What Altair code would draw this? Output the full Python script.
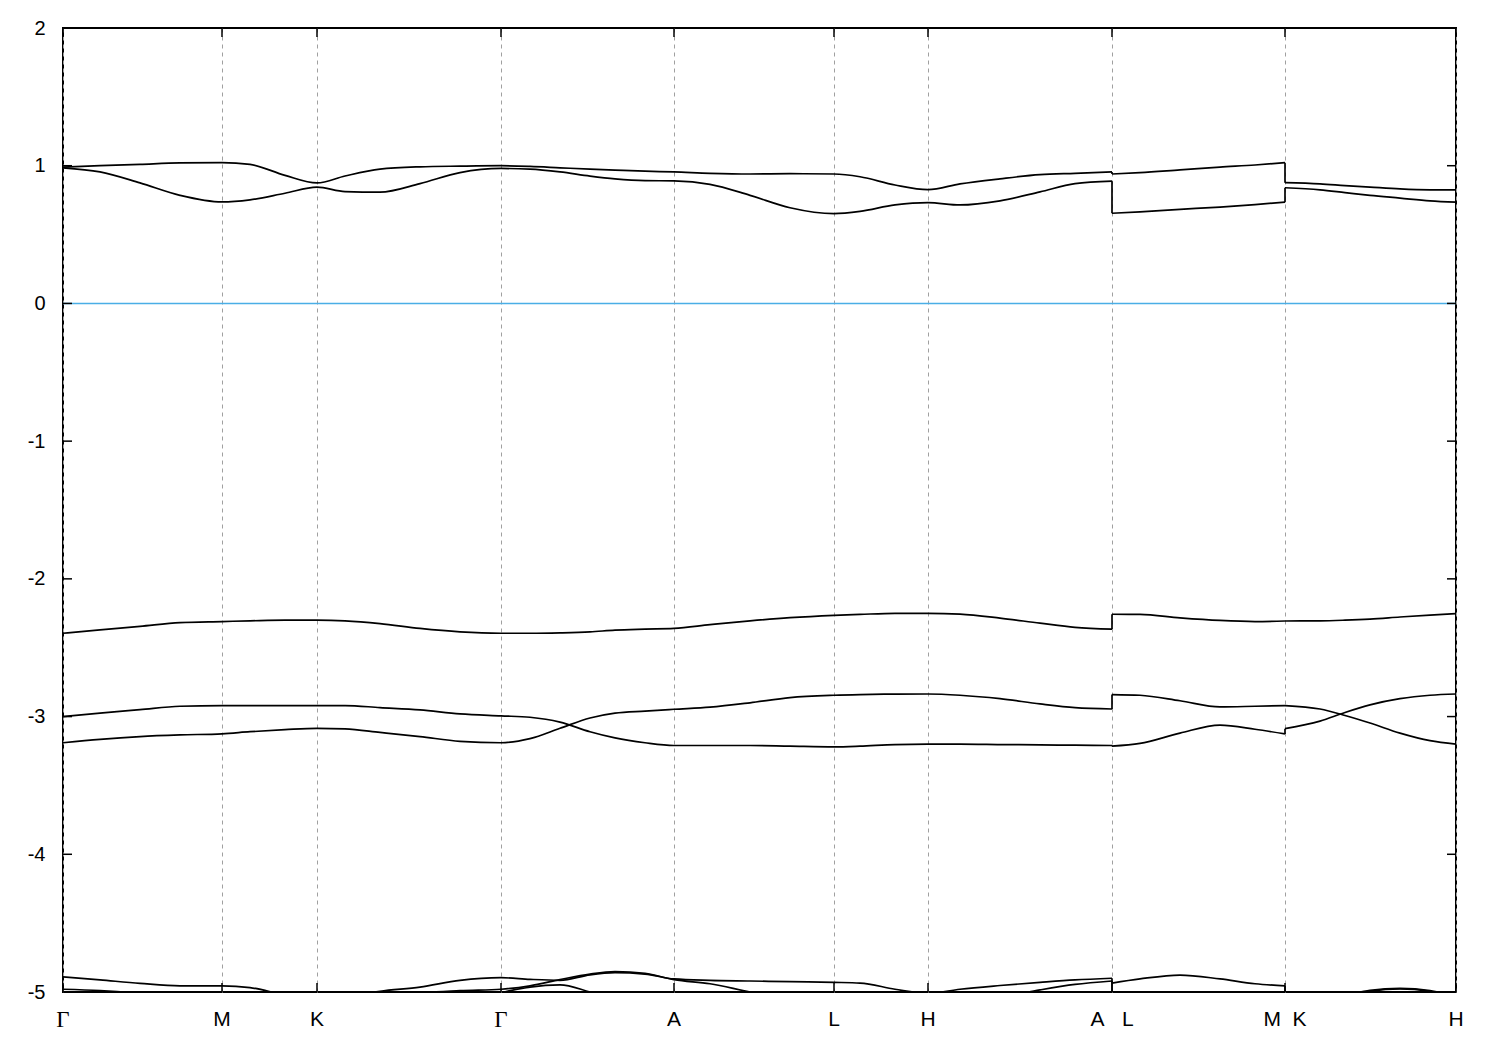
import altair as alt
import pandas as pd

# High-symmetry points along the k-path and their labels
k_points = [0, 1.59, 2.54, 4.38, 6.11, 7.71, 8.65, 10.49, 12.22, 13.93]
k_labels = ["Γ", "M", "K", "Γ", "A", "L", "H",
            "A\u00a0\u00a0\u00a0L", "M\u00a0\u00a0K", "H"]
y_ticks = [-5, -4, -3, -2, -1, 0, 1, 2]

# k-grid of the three continuous path pieces (Γ-M-K-Γ-A-L-H-A | L-M | K-H)
k_seg1 = [0, 0.37, 0.77, 1.17, 1.59, 1.87, 2.22, 2.54, 2.82, 3.17, 3.57, 3.97,
          4.38, 4.67, 4.97, 5.27, 5.52, 5.82, 6.11, 6.47, 6.87, 7.27, 7.71,
          7.97, 8.32, 8.65, 8.97, 9.37, 9.77, 10.12, 10.49]
k_seg2 = [10.49, 10.77, 11.17, 11.57, 11.92, 12.22]
k_seg3 = [12.22, 12.57, 12.82, 13.07, 13.37, 13.67, 13.93]

# Band energies (eV), seg1 + seg2 + seg3
band_t1 = [0.99, 1.0, 1.01, 1.02, 1.023, 1.01, 0.93, 0.875, 0.925, 0.975, 0.992, 0.997,
           1.0, 0.995, 0.985, 0.975, 0.968, 0.96, 0.955, 0.945, 0.94, 0.942, 0.94,
           0.92, 0.86, 0.826, 0.868, 0.905, 0.935, 0.945, 0.955,
           0.94, 0.95, 0.97, 0.99, 1.005, 1.022,
           0.877, 0.868, 0.856, 0.845, 0.832, 0.825, 0.824]
band_t2 = [0.985, 0.955, 0.875, 0.785, 0.737, 0.752, 0.80, 0.844, 0.812, 0.808, 0.87, 0.95,
           0.98, 0.975, 0.955, 0.925, 0.905, 0.892, 0.89, 0.865, 0.785, 0.695, 0.652,
           0.668, 0.715, 0.732, 0.715, 0.745, 0.81, 0.87, 0.888,
           0.655, 0.665, 0.683, 0.70, 0.718, 0.735,
           0.84, 0.825, 0.805, 0.785, 0.765, 0.745, 0.735]
band_m1 = [-2.395, -2.37, -2.345, -2.318, -2.31, -2.305, -2.30, -2.30, -2.305, -2.325, -2.36, -2.385,
           -2.395, -2.395, -2.392, -2.385, -2.372, -2.365, -2.36, -2.333, -2.305, -2.282, -2.265,
           -2.258, -2.25, -2.25, -2.256, -2.285, -2.322, -2.352, -2.365,
           -2.257, -2.258, -2.283, -2.302, -2.31, -2.306,
           -2.306, -2.305, -2.30, -2.292, -2.277, -2.263, -2.253]
band_mp = [-3.0, -2.975, -2.95, -2.925, -2.92, -2.92, -2.92, -2.92, -2.92, -2.935, -2.952, -2.98,
           -2.995, -3.005, -3.04, -3.11, -3.155, -3.19, -3.21, -3.21, -3.21, -3.215, -3.22,
           -3.215, -3.203, -3.20, -3.20, -3.203, -3.206, -3.208, -3.21,
           -3.215, -3.195, -3.12, -3.062, -3.092, -3.126,
           -3.088, -3.033, -2.97, -2.915, -2.87, -2.845, -2.836]
band_mq = [-3.19, -3.165, -3.145, -3.133, -3.125, -3.11, -3.095, -3.085, -3.09, -3.115, -3.145, -3.18,
           -3.19, -3.16, -3.085, -3.01, -2.975, -2.96, -2.947, -2.932, -2.90, -2.862, -2.845,
           -2.84, -2.837, -2.836, -2.845, -2.87, -2.908, -2.935, -2.945,
           -2.84, -2.845, -2.885, -2.93, -2.925, -2.92,
           -2.92, -2.945, -2.992, -3.047, -3.12, -3.175, -3.20]
band_b1 = [-4.89, -4.912, -4.937, -4.955, -4.955, -4.968, -5.02, -5.05, -5.04, -4.995, -4.965, -4.915,
           -4.896, -4.908, -4.915, -4.875, -4.86, -4.87, -4.905, -4.915, -4.92, -4.925, -4.93,
           -4.935, -4.98, -5.01, -4.98, -4.953, -4.93, -4.912, -4.90,
           -4.935, -4.905, -4.877, -4.905, -4.94, -4.955,
           -5.05, -5.05, -5.02, -4.988, -4.974, -4.99, -5.03]
band_b2 = [-4.98, -4.99, -5.01, -5.04, -5.06, -5.08, -5.1, -5.1, -5.1, -5.08, -5.01, -4.99,
           -4.98, -4.955, -4.91, -4.87, -4.852, -4.865, -4.91, -4.94, -5.0, -5.05, -5.08,
           -5.08, -5.08, -5.08, -5.07, -5.04, -4.985, -4.945, -4.92,
           -5.1, -5.1, -5.1, -5.1, -5.1, -5.1,
           -5.1, -5.08, -5.04, -4.995, -4.978, -4.995, -5.04]
band_b3 = [-5.2, -5.2, -5.2, -5.2, -5.2, -5.2, -5.2, -5.2, -5.2, -5.2, -5.2, -5.2,
           -5.01, -4.965, -4.948, -5.0, -5.05, -5.2, -5.2, -5.2, -5.2, -5.2, -5.2,
           -5.2, -5.2, -5.2, -5.2, -5.2, -5.2, -5.2, -5.2,
           -5.2, -5.2, -5.2, -5.2, -5.2, -5.2,
           -5.2, -5.2, -5.2, -5.2, -5.2, -5.2, -5.2]

bands = {"t1": band_t1, "t2": band_t2, "m1": band_m1, "mp": band_mp,
         "mq": band_mq, "b1": band_b1, "b2": band_b2, "b3": band_b3}
segments = [k_seg1, k_seg2, k_seg3]

rows, jumps = [], []
for name, vals in bands.items():
    i = 0
    ends = []
    for s, ks in enumerate(segments):
        start = i
        for k in ks:
            rows.append({"key": f"{name}-{s}", "k": k, "E": vals[i], "i": i})
            i += 1
        ends.append((start, i - 1))
    for s in range(len(segments) - 1):
        a = ends[s][1]
        b = ends[s + 1][0]
        jumps.append({"k": segments[s][-1], "E": vals[a], "E2": vals[b]})

df = pd.DataFrame(rows)
df_jump = pd.DataFrame(jumps)
df_y = pd.DataFrame({"E": y_ticks})
df_k = pd.DataFrame({"k": k_points, "label": k_labels})
df_zero = pd.DataFrame({"E": [0]})

W, H = 1393, 964

x_scale = alt.Scale(domain=[0, 13.93], nice=False, zero=False)
y_scale = alt.Scale(domain=[-5, 2], nice=False, zero=False)

x_axis = alt.Axis(
    values=k_points, title=None, ticks=False, domain=False, labels=False,
    grid=True, gridColor="#a0a0a0", gridDash=[4, 4], gridWidth=1,
)
y_axis = alt.Axis(
    values=y_ticks, title=None, ticks=False, domain=False, grid=False,
    labelExpr="datum.value + ''", labelFont="Liberation Sans",
    labelFontSize=20, labelColor="black", labelPadding=18, labelBaseline="middle",
)

X = alt.X("k:Q", scale=x_scale, axis=x_axis)
Y = alt.Y("E:Q", scale=y_scale, axis=y_axis)

zero = alt.Chart(df_zero).mark_rule(color="#4aaee6", strokeWidth=1.6).encode(y=Y)

lines = alt.Chart(df).mark_line(
    color="black", strokeWidth=1.7, interpolate="monotone", clip=True
).encode(x=X, y=Y, detail="key:N", order="i:Q")

jump_rules = alt.Chart(df_jump).mark_rule(
    color="black", strokeWidth=1.7, clip=True
).encode(x=X, y=Y, y2="E2:Q")

tick_l = alt.Chart(df_y).mark_rule(color="black", strokeWidth=1.5).encode(
    y=Y, x=alt.value(0), x2=alt.value(9))
tick_r = alt.Chart(df_y).mark_rule(color="black", strokeWidth=1.5).encode(
    y=Y, x=alt.value(W - 9), x2=alt.value(W))
tick_b = alt.Chart(df_k).mark_rule(color="black", strokeWidth=1.5).encode(
    x=X, y=alt.value(H), y2=alt.value(H - 9))
tick_t = alt.Chart(df_k).mark_rule(color="black", strokeWidth=1.5).encode(
    x=X, y=alt.value(0), y2=alt.value(9))

lab_sans = alt.Chart(df_k).transform_filter("datum.label != 'Γ'").mark_text(
    font="Liberation Sans", fontSize=21, color="black", baseline="middle", align="center"
).encode(x=X, y=alt.value(H + 28), text="label:N")
lab_serif = alt.Chart(df_k).transform_filter("datum.label == 'Γ'").mark_text(
    font="Liberation Serif", fontSize=23, color="black", baseline="middle", align="center"
).encode(x=X, y=alt.value(H + 28), text="label:N")

chart = alt.layer(zero, lines, jump_rules, tick_l, tick_r, tick_b, tick_t,
                  lab_sans, lab_serif).properties(
    width=W, height=H,
    autosize=alt.AutoSizeParams(type="none"),
    padding={"left": 55, "top": 20, "right": 28, "bottom": 40},
    background="white",
).configure_view(stroke="black", strokeWidth=2)

chart.save("out.html", embed_options={"renderer": "svg", "actions": False})
